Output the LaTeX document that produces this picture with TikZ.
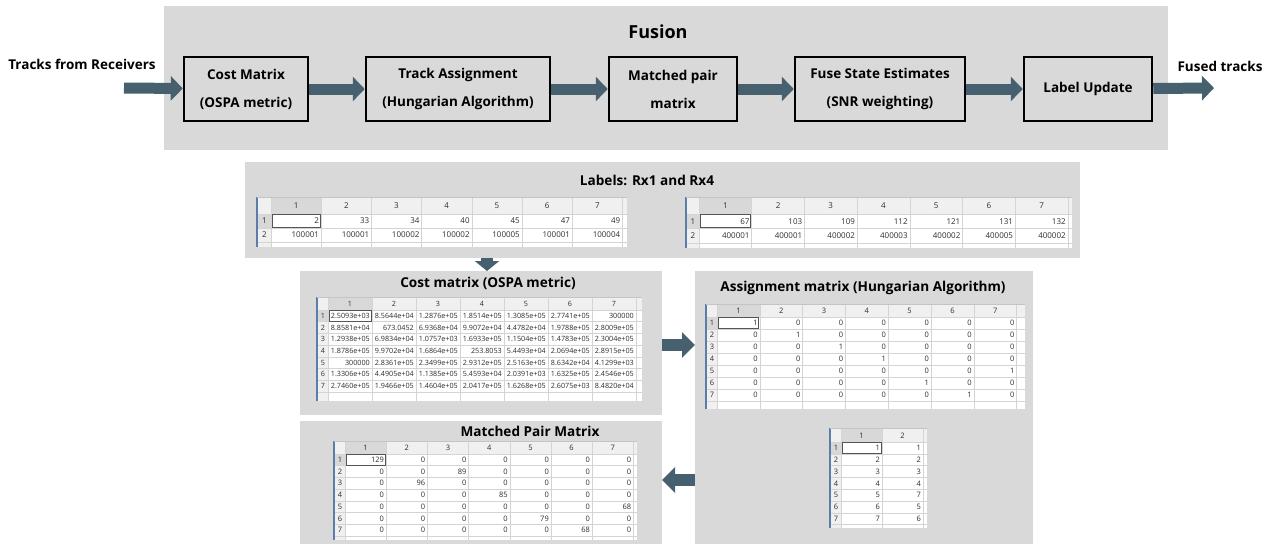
\documentclass[tikz,border=0pt]{standalone}
\usepackage{fontspec}
\setmainfont{Open Sans}
\usetikzlibrary{arrows.meta}
\definecolor{panelg}{HTML}{D9D9D9}
\definecolor{arrowc}{HTML}{46606F}
\definecolor{hdrc}{HTML}{F0F0F0}
\definecolor{hdrsel}{HTML}{D8D8D8}
\definecolor{gridc}{HTML}{D4D4D4}
\definecolor{cellt}{HTML}{2E2E2E}
\definecolor{edgeb}{HTML}{5A7DAE}
\definecolor{selc}{HTML}{555555}
\definecolor{topc}{HTML}{C4C4C4}
\newcommand{\setsheet}[9]{\def\Sx{#1}\def\Sy{#2}\def\Srw{#3}\def\Scw{#4}\def\Shh{#5}\def\Srh{#6}\def\Spw{#7}\def\Sph{#8}\def\Sfs{#9}}
\newcommand{\drawsheet}[4]{%
  \pgfmathsetmacro\Sxb{\Sx+\Srw}%
  \pgfmathsetmacro\Sxe{\Sxb+#2*\Scw}%
  \pgfmathsetmacro\Sxf{\Sxe+\Spw}%
  \pgfmathsetmacro\Syb{\Sy+\Shh}%
  \pgfmathsetmacro\Sye{\Syb+#3*\Srh}%
  \pgfmathsetmacro\Syf{\Sye+\Sph}%
  \pgfmathsetmacro\Sxc{\Sxb+\Scw}%
  \pgfmathsetmacro\Syc{\Syb+\Srh}%
  \fill[white] (\Sx,\Sy) rectangle (\Sxf,\Syf);
  \fill[hdrc] (\Sx,\Sy) rectangle (\Sxf,\Syb);
  \fill[hdrc] (\Sx,\Syb) rectangle (\Sxb,\Syf);
  \fill[hdrsel] (\Sxb,\Sy) rectangle (\Sxc,\Syb);
  \fill[hdrsel] (\Sx,\Syb) rectangle (\Sxb,\Syc);
  \foreach \ci in {0,...,#2} {\draw[gridl] (\Sxb+\ci*\Scw,\Sy) -- (\Sxb+\ci*\Scw,\Syf);}
  \foreach \ri in {0,...,#3} {\draw[gridl] (\Sx,\Syb+\ri*\Srh) -- (\Sxf,\Syb+\ri*\Srh);}
  \foreach \ci in {1,...,#2} {\node[hdrtext] (#1-h\ci) at (\Sxb+\ci*\Scw-0.5*\Scw,\Sy+0.5*\Shh+0.5) {\ci};}
  \foreach \ri in {1,...,#3} {\node[hdrtext] (#1-r\ri) at (\Sx+0.5*\Srw+0.5,\Syb+\ri*\Srh-0.5*\Srh) {\ri};}
  \foreach \vals [count=\ri] in {#4} {\foreach \vv [count=\ci] in \vals {\node[celltext] (#1-\ri-\ci) at (\Sxb+\ci*\Scw-2,\Syb+\ri*\Srh-0.5*\Srh) {\vv};}}
  \draw[draw=selc, line width=0.9pt] (\Sxb+1,\Syb+0.6) rectangle (\Sxc-1,\Syc-0.6);
  \draw[draw=edgeb, line width=1.8pt] (\Sx,\Sy) -- (\Sx,\Syf);
  \draw[draw=topc, line width=1pt] (\Sx,\Sy) -- (\Sxf,\Sy);
}
\begin{document}
\begin{tikzpicture}[x=1pt,y=-1pt,
  panel/.style={fill=panelg, draw=none, inner sep=0pt, outer sep=0pt, anchor=north west},
  box/.style={draw=black, line width=2.5pt, fill=panelg, inner sep=0pt, minimum height=64pt, align=center, font=\fontsize{13.5}{28}\selectfont\bfseries},
  bigarrow/.style={draw=arrowc, line width=11pt, -{Triangle[length=12pt,width=24pt]}},
  smallarrow/.style={draw=arrowc, line width=12pt, -{Triangle[length=13pt,width=25pt]}},
  ttl/.style={font=\fontsize{13.6}{15}\selectfont\bfseries, inner sep=0pt},
  lbl/.style={font=\fontsize{13.5}{15}\selectfont\bfseries, inner sep=0pt},
  gridl/.style={draw=gridc, line width=0.6pt},
  celltext/.style={font=\fontsize{\Sfs}{\Sfs}\selectfont, text=cellt, inner sep=0pt, anchor=east},
  hdrtext/.style={font=\fontsize{\Sfs}{\Sfs}\selectfont, text=cellt, inner sep=0pt},
]
\fill[white] (0,0) rectangle (1273,544);
\useasboundingbox (0,0) rectangle (1273,544);

% ---------- Fusion panel ----------
\node[panel, minimum width=1004pt, minimum height=144pt] (fus) at (164,6) {};
\node[font=\fontsize{18}{20}\selectfont\bfseries, inner sep=0pt] (fust) at (658,32) {Fusion};
\node[box, minimum width=124pt] (b1) at (246,89) {Cost Matrix\\(OSPA metric)};
\node[box, minimum width=184pt] (b2) at (458,89) {Track Assignment\\(Hungarian Algorithm)};
\node[box, minimum width=128pt] (b3) at (673,89) {Matched pair\\matrix};
\node[box, minimum width=170pt] (b4) at (880,89) {Fuse State Estimates\\(SNR weighting)};
\node[box, minimum width=128pt] (b5) at (1088,89) {Label Update};
\node[lbl] (tin) at (82,64) {Tracks from Receivers};
\node[lbl] (tout) at (1220,66) {Fused tracks};
\coordinate (ain) at (124,88);
\coordinate (aout) at (1214,88);
\draw[bigarrow] (ain) -- (b1);
\draw[bigarrow] (b1) -- (b2);
\draw[bigarrow] (b2) -- (b3);
\draw[bigarrow] (b3) -- (b4);
\draw[bigarrow] (b4) -- (b5);
\draw[bigarrow] (b5) -- (aout);

% ---------- lower panels ----------
\node[panel, minimum width=835pt, minimum height=96pt] (labp) at (245,162) {};
\node[ttl] (labt) at (647,180) {Labels: Rx1 and Rx4};
\node[panel, minimum width=362pt, minimum height=144pt] (costp) at (300,271) {};
\node[ttl] (costt) at (488,283) {Cost matrix (OSPA metric)};
\node[panel, minimum width=338pt, minimum height=273pt] (asgp) at (695,271) {};
\node[ttl] (asgt) at (863,288) {Assignment matrix (Hungarian Algorithm)};
\node[panel, minimum width=362pt, minimum height=123pt] (mpp) at (300,421) {};
\node[ttl] (mpt) at (530,431) {Matched Pair Matrix};

% ---------- tables ----------
\setsheet{257}{197}{14}{50.2}{17}{14}{5}{5}{8}
\drawsheet{lab1}{7}{2}{{2,33,34,40,45,47,49},{100001,100001,100002,100002,100005,100001,100004}}

\setsheet{686}{197}{13}{52.7}{17}{14.5}{4}{5}{8}
\drawsheet{lab2}{7}{2}{{67,103,109,112,121,131,132},{400001,400001,400002,400003,400002,400005,400002}}

\setsheet{317}{297}{11}{44}{13}{11.7}{6}{9}{7.2}
\drawsheet{cost}{7}{7}{%
{2.5093e+03,8.5644e+04,1.2876e+05,1.8514e+05,1.3085e+05,2.7741e+05,300000},%
{8.8581e+04,673.0452,6.9368e+04,9.9072e+04,4.4782e+04,1.9788e+05,2.8009e+05},%
{1.2938e+05,6.9834e+04,1.0757e+03,1.6933e+05,1.1504e+05,1.4783e+05,2.3004e+05},%
{1.8786e+05,9.9702e+04,1.6864e+05,253.8053,5.4493e+04,2.0694e+05,2.8915e+05},%
{300000,2.8361e+05,2.3499e+05,2.9312e+05,2.5163e+05,8.6342e+04,4.1299e+03},%
{1.3306e+05,4.4905e+04,1.1385e+05,5.4593e+04,2.0391e+03,1.6325e+05,2.4546e+05},%
{2.7460e+05,1.9466e+05,1.4604e+05,2.0417e+05,1.6268e+05,2.6075e+03,8.4820e+04}}

\setsheet{706}{304}{11}{42.8}{13}{12}{8}{8}{7.5}
\drawsheet{asg}{7}{7}{%
{1,0,0,0,0,0,0},{0,1,0,0,0,0,0},{0,0,1,0,0,0,0},{0,0,0,1,0,0,0},%
{0,0,0,0,0,0,1},{0,0,0,0,1,0,0},{0,0,0,0,0,1,0}}

\setsheet{830}{428}{11}{41}{14}{11.8}{4}{3}{7.5}
\drawsheet{pairs}{2}{7}{{1,1},{2,2},{3,3},{4,4},{5,7},{6,5},{7,6}}

\setsheet{334}{441}{11}{41.2}{13}{11.7}{4}{4}{7.5}
\drawsheet{mp}{7}{7}{%
{129,0,0,0,0,0,0},{0,0,89,0,0,0,0},{0,96,0,0,0,0,0},{0,0,0,85,0,0,0},%
{0,0,0,0,0,0,68},{0,0,0,0,79,0,0},{0,0,0,0,0,68,0}}

% ---------- connectors between panels ----------
\coordinate (dx) at (487,0);
\coordinate (ry) at (0,345);
\coordinate (ly) at (0,480);
\draw[smallarrow, -{Triangle[length=10pt,width=24pt]}] (labp.south -| dx) -- (costp.north -| dx);
\draw[smallarrow] (costp.east |- ry) -- (asgp.west |- ry);
\draw[smallarrow] (asgp.west |- ly) -- (mpp.east |- ly);
\end{tikzpicture}
\end{document}
